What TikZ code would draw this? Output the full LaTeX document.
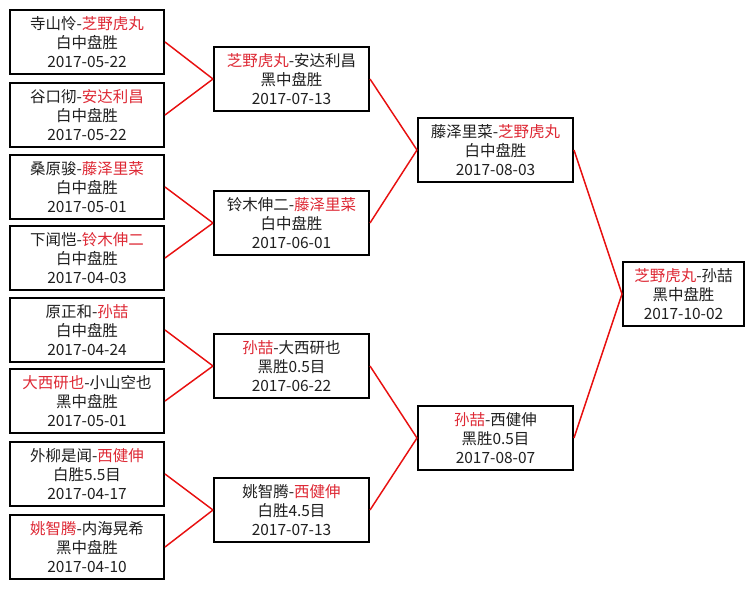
\documentclass[tikz,border=0pt]{standalone}
\usepackage{fontspec}
\newfontfamily\cjk{Noto Sans CJK SC}
\definecolor{tred}{RGB}{222,40,52}
\definecolor{lred}{RGB}{232,16,16}
\newcommand{\rd}[1]{\textcolor{tred}{#1}}
\tikzset{
  game/.style={draw=black, line width=1.5pt, fill=white, rectangle, inner sep=0pt,
    minimum width=#1*0.75pt, minimum height=64*0.75pt, align=center, text=black!88,
    font=\cjk\fontsize{11.6pt}{14.2pt}\selectfont},
  game/.default=154,
  link/.style={draw=lred, line width=1.1pt}
}
\begin{document}
\begin{tikzpicture}[x=0.75pt,y=-0.75pt]
\fill[white] (0,0) rectangle (755,589);
\useasboundingbox (0,0) rectangle (755,589);
% round 1
\node[game] (a1) at (87,42)  {寺山怜-\rd{芝野虎丸}\\白中盘胜\\2017-05-22};
\node[game] (a2) at (87,115) {谷口彻-\rd{安达利昌}\\白中盘胜\\2017-05-22};
\node[game] (a3) at (87,187) {桑原骏-\rd{藤泽里菜}\\白中盘胜\\2017-05-01};
\node[game] (a4) at (87,258) {下闻恺-\rd{铃木伸二}\\白中盘胜\\2017-04-03};
\node[game] (a5) at (87,330) {原正和-\rd{孙喆}\\白中盘胜\\2017-04-24};
\node[game] (a6) at (87,401) {\rd{大西研也}-小山空也\\黑中盘胜\\2017-05-01};
\node[game] (a7) at (87,474) {外柳是闻-\rd{西健伸}\\白胜5.5目\\2017-04-17};
\node[game] (a8) at (87,547) {\rd{姚智腾}-内海晃希\\黑中盘胜\\2017-04-10};
% round 2
\node[game=155] (b1) at (291.5,79)  {\rd{芝野虎丸}-安达利昌\\黑中盘胜\\2017-07-13};
\node[game=155] (b2) at (291.5,223) {铃木伸二-\rd{藤泽里菜}\\白中盘胜\\2017-06-01};
\node[game=155] (b3) at (291.5,366) {\rd{孙喆}-大西研也\\黑胜0.5目\\2017-06-22};
\node[game=155] (b4) at (291.5,510) {姚智腾-\rd{西健伸}\\白胜4.5目\\2017-07-13};
% round 3
\node[game=155] (c1) at (495.5,150) {藤泽里菜-\rd{芝野虎丸}\\白中盘胜\\2017-08-03};
\node[game=155] (c2) at (495.5,438) {\rd{孙喆}-西健伸\\黑胜0.5目\\2017-08-07};
% final
\node[game=121] (d1) at (683.5,294) {\rd{芝野虎丸}-孙喆\\黑中盘胜\\2017-10-02};
% connectors
\draw[link] (a1.east) -- (b1.west);
\draw[link] (a2.east) -- (b1.west);
\draw[link] (a3.east) -- (b2.west);
\draw[link] (a4.east) -- (b2.west);
\draw[link] (a5.east) -- (b3.west);
\draw[link] (a6.east) -- (b3.west);
\draw[link] (a7.east) -- (b4.west);
\draw[link] (a8.east) -- (b4.west);
\draw[link] (b1.east) -- (c1.west);
\draw[link] (b2.east) -- (c1.west);
\draw[link] (b3.east) -- (c2.west);
\draw[link] (b4.east) -- (c2.west);
\draw[link] (c1.east) -- (d1.west);
\draw[link] (c2.east) -- (d1.west);
\end{tikzpicture}
\end{document}
